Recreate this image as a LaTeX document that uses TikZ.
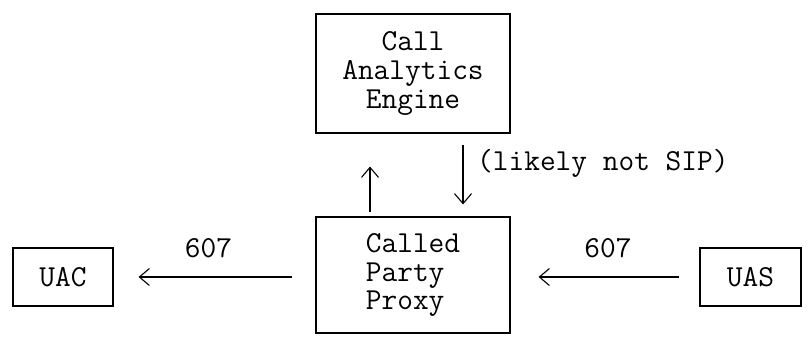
\documentclass[tikz,border=0pt]{standalone}
\usepackage{fontspec}
\usetikzlibrary{arrows.meta}

\begin{document}
\begin{tikzpicture}[x=1pt, y=-1pt,
    box/.style={draw, line width=1.1pt, inner sep=0pt, font=\ttfamily\fontsize{30.5}{28.7}\selectfont},
    msg/.style={line width=1.1pt, -{Straight Barb[length=10pt, width=17pt]}},
    lbl/.style={font=\ttfamily\fontsize{30.5}{28.7}\selectfont, inner sep=0pt}
]
\useasboundingbox (0,0) rectangle (810,344);

% Analytics engine on top
\node[box, minimum width=194pt, minimum height=119pt, align=center] (engine) at (413,73.5) {Call\\Analytics\\Engine};
% Proxy of the called party
\node[box, minimum width=194pt, minimum height=116pt, align=left] (proxy) at (413,275) {Called\\Party\\Proxy};
% User agents
\node[box, minimum width=100pt, minimum height=58pt] (uac) at (63,277) {UAC};
\node[box, minimum width=101pt, minimum height=58pt] (uas) at (750.5,277) {UAS};

% Proxy <-> engine
\draw[msg, shorten <=4pt, shorten >=33pt] ([xshift=-43pt]proxy.north) -- ([xshift=-43pt]engine.south);
\draw[msg, shorten <=11pt, shorten >=12pt] ([xshift=50pt]engine.south) -- ([xshift=50pt]proxy.north);
\node[lbl, anchor=west] (note) at (477,163) {(likely not SIP)};

% 607 responses
\draw[msg, shorten <=23pt, shorten >=25pt] (proxy.west |- uac.east) -- node[lbl, yshift=29pt, xshift=-6pt] (resp1) {607} (uac.east);
\draw[msg, shorten <=20pt, shorten >=28pt] (uas.west) -- node[lbl, yshift=29pt, xshift=3pt] (resp2) {607} (uas.west -| proxy.east);

\end{tikzpicture}
\end{document}
